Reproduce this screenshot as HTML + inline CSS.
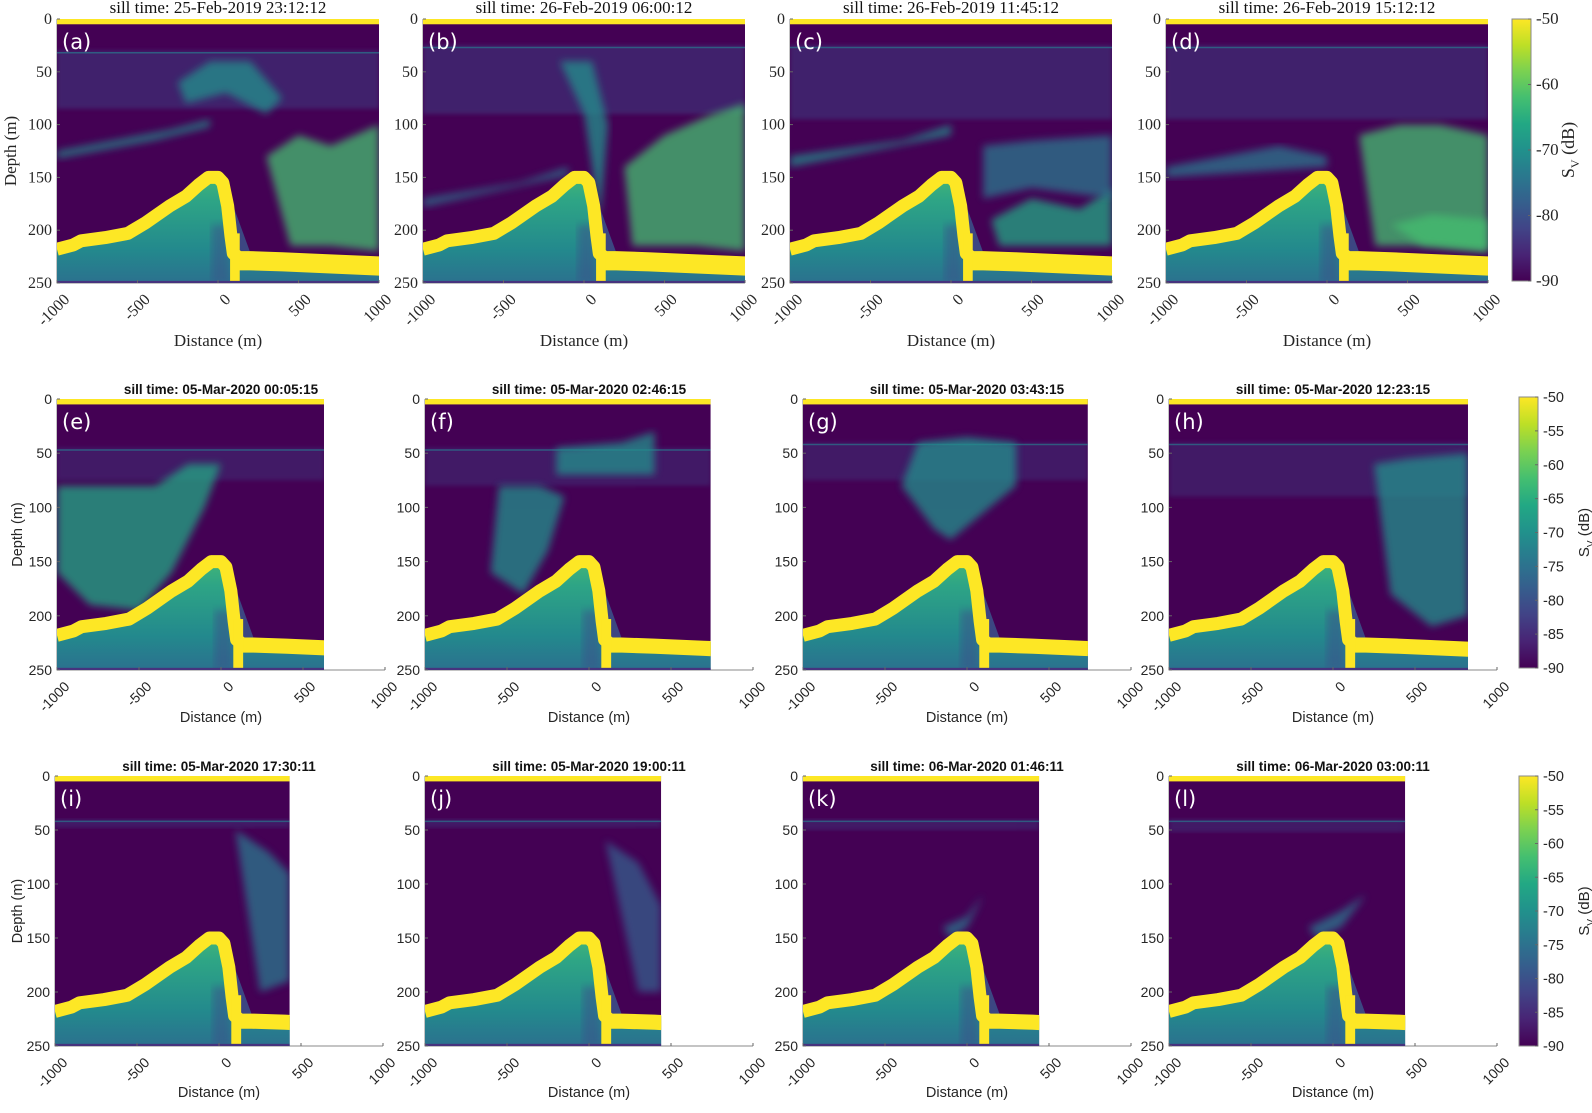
<!DOCTYPE html>
<html><head><meta charset="utf-8"><title>Sill echograms</title>
<style>
html,body{margin:0;padding:0;background:#fff;}
svg{display:block;}
</style></head>
<body>
<svg id="fig" width="1592" height="1113" viewBox="0 0 1592 1113" xmlns="http://www.w3.org/2000/svg">
<defs>
<linearGradient id="viridis" x1="0" y1="1" x2="0" y2="0">
<stop offset="0" stop-color="#440154"/><stop offset="0.1" stop-color="#482475"/>
<stop offset="0.2" stop-color="#414487"/><stop offset="0.3" stop-color="#355f8d"/>
<stop offset="0.4" stop-color="#2a788e"/><stop offset="0.5" stop-color="#21918c"/>
<stop offset="0.6" stop-color="#22a884"/><stop offset="0.7" stop-color="#44bf70"/>
<stop offset="0.8" stop-color="#7ad151"/><stop offset="0.9" stop-color="#bddf26"/>
<stop offset="1" stop-color="#fde725"/></linearGradient>
<linearGradient id="subfloor" x1="0" y1="0" x2="0" y2="1">
<stop offset="0" stop-color="#46b874"/><stop offset="0.25" stop-color="#2ea585"/><stop offset="0.7" stop-color="#23898d"/><stop offset="1" stop-color="#2b718e"/></linearGradient>
<filter id="blur2"><feGaussianBlur stdDeviation="2"/></filter>
<filter id="blur4"><feGaussianBlur stdDeviation="4"/></filter>
</defs>
<g id="root"></g>
</svg>
<script>
// ---- data (distance in m, depth in m) ----
const bottomDist  = [-1000,-900,-850,-700,-560,-450,-300,-200,-120,-60,0,30,60,80,95,130,200,400,700,1000];
const bottomDepth = [213,209,205,202,198,188,172,163,152,145,145,150,172,200,217,221,221,222,224,226];
const xTicks = [-1000,-500,0,500,1000];
const yTicks = [0,50,100,150,200,250];
const cbTicksRow1 = [-50,-60,-70,-80,-90];
const cbTicksRow23 = [-50,-55,-60,-65,-70,-75,-80,-85,-90];
const panelLetters = ['a','b','c','d','e','f','g','h','i','j','k','l'];
const panelTitles = ['25-Feb-2019 23:12:12','26-Feb-2019 06:00:12','26-Feb-2019 11:45:12','26-Feb-2019 15:12:12',
 '05-Mar-2020 00:05:15','05-Mar-2020 02:46:15','05-Mar-2020 03:43:15','05-Mar-2020 12:23:15',
 '05-Mar-2020 17:30:11','05-Mar-2020 19:00:11','06-Mar-2020 01:46:11','06-Mar-2020 03:00:11'];
const dataMaxDist = [1000,1000,1000,1000, 628,742,737,823, 431,440,440,440];
const layerDepths = [[30,85],[25,90],[25,95],[25,95],[45,75],[45,80],[40,75],[40,90],[40,48],[40,48],[40,50],[40,52]];
const plumes = {
 a:[[[300,500,700,1000,1000,700,450],[130,110,120,100,220,215,215],0.45],[[-250,-50,200,400,300,50,-200],[60,40,40,75,90,70,80],0.3],[[-1000,-300,-50,-50,-400,-1000],[125,105,95,102,115,132],0.25]],
 b:[[[250,500,800,1000,1000,700,300],[140,110,90,80,220,215,215],0.45],[[-150,50,150,100,0],[40,40,100,190,90],0.3],[[-1000,-400,-100,-100,-1000],[170,155,140,148,178],0.22]],
 c:[[[250,500,800,1000,1000,600,300],[190,170,180,160,215,215,215],0.35],[[-1000,-300,0,0,-1000],[130,115,100,110,140],0.25],[[200,500,1000,1000,500,200],[120,115,110,170,160,170],0.2]],
 d:[[[200,450,700,1000,1000,650,300],[110,100,100,110,220,215,215],0.45],[[400,650,1000,1000,600],[195,185,190,220,215],0.45],[[-1000,-300,0,0,-1000],[140,120,130,140,150],0.22]],
 e:[[[-1000,-700,-400,-200,0,-100,-300,-500,-800,-1000],[80,80,80,60,60,100,160,195,190,160],0.35]],
 f:[[[-550,-300,-150,-250,-400,-600],[80,80,90,140,180,160],0.3],[[-200,200,400,400,-200],[45,40,30,70,70],0.3]],
 g:[[[-300,0,300,300,-100,-200,-400],[40,35,40,80,130,120,80],0.3]],
 h:[[[250,450,823,823,600,350],[60,55,50,200,210,180],0.3]],
 i:[[[100,300,431,431,250],[50,70,90,190,200],0.2]],
 j:[[[100,300,440,440,300],[60,80,120,200,200],0.12]],
 k:[[[-150,0,100,0,-100],[140,130,110,140,150],0.15]],
 l:[[[-150,50,200,50,-100],[140,125,110,140,150],0.15]]
};
// ---- layout ----
const rows = [
 {y0:19,h:264,xs:[57,423,790,1166],w:322,serif:true,tsize:17,tbold:false,titleY:13,xlabY:346,cb:{x:1512,y:19,w:19,h:262},cbTicks:cbTicksRow1},
 {y0:399,h:271,xs:[57,425,803,1169],w:328,serif:false,tsize:13.5,tbold:true,titleY:394,xlabY:722,cb:{x:1519,y:397,w:19,h:271},cbTicks:cbTicksRow23},
 {y0:776,h:270,xs:[55,425,803,1169],w:328,serif:false,tsize:13.5,tbold:true,titleY:771,xlabY:1097,cb:{x:1519,y:776,w:19,h:270},cbTicks:cbTicksRow23}
];
const NS='http://www.w3.org/2000/svg';
const root=document.getElementById('root');
function mk(tag,attrs,parent){const e=document.createElementNS(NS,tag);for(const k in attrs)e.setAttribute(k,attrs[k]);(parent||root).appendChild(e);return e;}
function viridis(t){const c=['#440154','#482475','#414487','#355f8d','#2a788e','#21918c','#22a884','#44bf70','#7ad151','#bddf26','#fde725'];return c[Math.max(0,Math.min(10,Math.round(t*10)))];}

rows.forEach((r,ri)=>{
 const fam = r.serif ? '"Liberation Serif", serif' : '"Liberation Sans", Arial, sans-serif';
 const fsz = r.serif ? 16 : 14;
 r.xs.forEach((x0,ci)=>{
  const pi = ri*4+ci, L = panelLetters[pi];
  const w=r.w, h=r.h, y0=r.y0;
  const X=d=>x0+(d+1000)/2000*w, Y=z=>y0+z/250*h;
  const xm=X(dataMaxDist[pi]);
  const g=mk('g',{});
  
  
  const cid='clip'+pi;
  const cp=mk('clipPath',{id:cid},g); mk('rect',{x:x0,y:y0,width:xm-x0,height:h},cp);
  const ax=mk('path',{d:`M${x0} ${y0}V${y0+h}H${x0+w}`,stroke:'#8a8a8a','stroke-width':1,fill:'none'},g);
   
  const img=mk('g',{'clip-path':`url(#${cid})`},g);
   
  mk('rect',{x:x0,y:y0,width:xm-x0,height:h,fill:'#440154'},img);
  const ld=layerDepths[pi];
  const lay=mk('rect',{x:x0,y:Y(ld[0]),width:xm-x0,height:Y(ld[1])-Y(ld[0]),fill:'#3e4a89',opacity:ri==0?0.45:0.35,filter:'url(#blur2)'},img);
   
  mk('line',{x1:x0,x2:xm,y1:Y(ld[0]+2),y2:Y(ld[0]+2),stroke:'#2a788e','stroke-width':1.5,opacity:0.7},img);
  (plumes[L]||[]).forEach((p,k)=>{
   const pts=p[0].map((d,i)=>X(d)+','+Y(p[1][i])).join(' ');
   const pl=mk('polygon',{points:pts,fill:viridis(0.2+p[2]),opacity:0.75,filter:'url(#blur4)'},img);
    
  });
  mk('rect',{x:x0,y:y0,width:xm-x0,height:Y(5)-y0,fill:'#fde725'},img);
  let pts=bottomDist.map((d,i)=>X(d)+','+Y(bottomDepth[i])).join(' ');
  const sf=mk('polygon',{points:pts+` ${X(1000)},${Y(250)} ${X(-1000)},${Y(250)}`,fill:'url(#subfloor)'},img);
   
  const iPk=bottomDist.indexOf(30), iR=bottomDist.indexOf(200);
  mk('polygon',{points:`${X(bottomDist[iPk])},${Y(bottomDepth[iPk])} ${X(bottomDist[iR])},${Y(bottomDepth[iR])} ${X(95)},${Y(222)} ${X(60)},${Y(175)}`,fill:'#3b528b',opacity:0.85},img);
  mk('rect',{x:X(-40),y:Y(195),width:X(70)-X(-40),height:Y(250)-Y(195),fill:'#3b528b',opacity:0.55,filter:'url(#blur4)'},img);
  const bpath=bottomDist.map((d,i)=>(i?'L':'M')+X(d)+' '+Y(bottomDepth[i]+5)).join('');
  const sb=mk('path',{d:bpath,stroke:'#fde725','stroke-width':13,fill:'none','stroke-linejoin':'round'},img);
   
  const iF=bottomDist.indexOf(130);
  const fpts=bottomDist.slice(iF).map((d,i)=>X(d)+','+Y(bottomDepth[iF+i])).join(' ')+' '+
    bottomDist.slice(iF).reverse().map((d,i)=>X(d)+','+Y(bottomDepth[bottomDist.length-1-i]+(ri==0?17:13))).join(' ');
  mk('polygon',{points:fpts,fill:'#fde725'},img);
  mk('rect',{x:X(75),y:Y(203),width:X(135)-X(75),height:Y(250)-Y(203),fill:'#fde725'},img);
  mk('rect',{x:x0,y:Y(248),width:xm-x0,height:Y(250)-Y(248),fill:'#46337e'},img);
  const lt=mk('text',{x:x0+5,y:y0+30,fill:'#fff','font-family':'"DejaVu Sans", sans-serif','font-size':21},g);
  lt.textContent='('+L+')';  
  const tt=mk('text',{x:x0+w/2,y:r.titleY,'text-anchor':'middle','font-family':fam,'font-size':r.tsize,'font-weight':r.tbold?'bold':'normal',fill:'#111'},g);
  tt.textContent='sill time: '+panelTitles[pi];  
  yTicks.forEach(v=>{
   mk('line',{x1:x0,x2:x0+3,y1:Y(v),y2:Y(v),stroke:'#666'},g);
   const t=mk('text',{x:x0-5,y:Y(v)+5,'text-anchor':'end','font-family':fam,'font-size':fsz,fill:'#262626'},g);
   t.textContent=v;  
  });
  xTicks.forEach(v=>{
   mk('line',{x1:X(v),x2:X(v),y1:y0+h,y2:y0+h-3,stroke:'#666'},g);
   const tx=X(v)+6, ty=y0+h+10;
   const t=mk('text',{x:tx,y:ty,'text-anchor':'end','font-family':fam,'font-size':fsz,fill:'#262626',transform:`rotate(-45 ${tx} ${ty})`,'dominant-baseline':'hanging'},g);
   t.textContent=v;  
  });
  const xl=mk('text',{x:x0+w/2,y:r.xlabY,'text-anchor':'middle','font-family':fam,'font-size':r.serif?17:14.5,fill:'#262626'},g);
  xl.textContent='Distance (m)';  
  if(ci==0){
   const cx=r.serif?12:18, cy=y0+h/2;
   const yl=mk('text',{x:cx,y:cy,'text-anchor':'middle','font-family':fam,'font-size':r.serif?17:14.5,fill:'#262626',transform:`rotate(-90 ${cx} ${cy})`,'dominant-baseline':'middle'},g);
   yl.textContent='Depth (m)';  
  }
 });
 const c=r.cb, fam2 = r.serif ? '"Liberation Serif", serif' : '"Liberation Sans", Arial, sans-serif';
 const cb=mk('g',{});  
 mk('rect',{x:c.x,y:c.y,width:c.w,height:c.h,fill:'url(#viridis)',stroke:'#8a8a8a','stroke-width':1},cb);
 const vmax=-50,vmin=-90;
 r.cbTicks.forEach(v=>{
  const yy=c.y+(vmax-v)/(vmax-vmin)*c.h;
  mk('line',{x1:c.x+c.w-3,x2:c.x+c.w,y1:yy,y2:yy,stroke:'#666'},cb);
  const t=mk('text',{x:c.x+c.w+5,y:yy+5,'font-family':fam2,'font-size':r.serif?17:14.5,fill:'#262626'},cb);
  t.textContent=v;  
 });
 const lx=c.x+(r.serif?62:70), ly=c.y+c.h/2;
 const lab=mk('text',{x:lx,y:ly,'text-anchor':'middle','font-family':fam2,'font-size':r.serif?18:15,fill:'#262626',transform:`rotate(-90 ${lx} ${ly})`},cb);
  
 lab.innerHTML='S<tspan dy="5" font-size="'+(r.serif?12:10)+'">V</tspan><tspan dy="-5"> (dB)</tspan>';
});
</script>
</body></html>
